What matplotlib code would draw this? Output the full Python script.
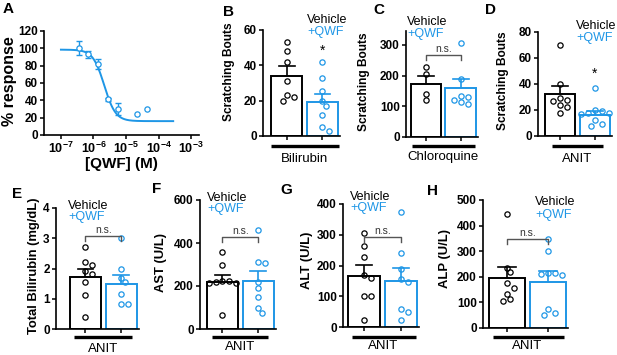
import numpy as np
import matplotlib
matplotlib.use('Agg')
import matplotlib.pyplot as plt
from matplotlib.ticker import LogLocator, FixedLocator, NullFormatter

plt.rcParams['font.family'] = ['Liberation Sans', 'DejaVu Sans']
plt.rcParams['mathtext.fontset'] = 'custom'
plt.rcParams['mathtext.rm'] = 'Liberation Sans:bold'
plt.rcParams['mathtext.bf'] = 'Liberation Sans:bold'

# ---------------- data ----------------
# Panel A: dose response
qwf_conc = [3.5e-7, 7e-7, 1.4e-6, 2.8e-6, 5.6e-6, 2.2e-5, 4.4e-5]
qwf_resp = [100, 93, 82, 41, 30, 24, 30]
qwf_err = [8, 4, 6, 2, 7, 0, 0]
fit_top, fit_bottom, fit_logic50, fit_hill = 98.5, 16.0, -5.67, 2.5
fit_start, fit_end = 1e-7, 2.8e-4

groups = ['Vehicle', '+QWF']

# Panel B: Bilirubin scratching
bili_veh = [53, 48, 42, 31, 23, 20, 22]
bili_qwf = [42, 33, 25.5, 20, 17, 12, 5, 3]
bili_mean = [34, 19]
bili_sem = [5.5, 5]

# Panel C: Chloroquine scratching
chlo_veh = [227, 205, 141, 121]
chlo_qwf = [305, 190, 134, 130, 122, 115, 106]
chlo_mean = [172, 160]
chlo_sem = [25, 28]

# Panel D: ANIT scratching
anit_veh = [70, 40, 28, 27, 29, 24, 22, 18]
anit_qwf = [37, 20, 19, 17.5, 17.5, 17, 12, 9, 8]
anit_mean = [32.5, 16]
anit_sem = [6, 3]

# Panel E: Total bilirubin
tbil_veh = [2.71, 2.21, 2.12, 1.93, 1.83, 1.57, 1.13, 0.41]
tbil_qwf = [3.0, 2.0, 1.7, 1.55, 1.15, 0.82, 0.82]
tbil_mean = [1.72, 1.5]
tbil_sem = [0.25, 0.27]

# Panel F: AST
ast_veh = [360, 300, 225, 218, 215, 212, 222, 65]
ast_qwf = [460, 312, 308, 220, 190, 148, 100, 76]
ast_mean = [220, 222]
ast_sem = [32, 48]

# Panel G: ALT
alt_veh = [305, 262, 228, 170, 160, 102, 102, 22]
alt_qwf = [375, 240, 190, 155, 145, 60, 48, 24]
alt_mean = [167, 150]
alt_sem = [35, 43]

# Panel H: ALP
alp_veh = [445, 236, 217, 174, 157, 133, 112, 104]
alp_qwf = [347, 300, 216, 214, 212, 208, 73, 52, 58]
alp_mean = [195, 180]
alp_sem = [42, 43]

# ---------------- style ----------------
BLUE = '#1E96E6'
BLACK = 'black'
W, H = 617, 355
fig = plt.figure(figsize=(W / 100, H / 100), dpi=100)


def add_ax(l, t, r, b):
    return fig.add_axes([l / W, 1 - b / H, (r - l) / W, (b - t) / H])


def ftext(x, y, s, **kw):
    fig.text(x / W, 1 - y / H, s, **kw)


def style_axes(ax, size=8.5):
    for s in ['top', 'right']:
        ax.spines[s].set_visible(False)
    for s in ['left', 'bottom']:
        ax.spines[s].set_linewidth(1.2)
    ax.tick_params(axis='both', which='major', length=3, width=1.1, pad=1.5,
                   labelsize=size, direction='out')
    for lab in ax.get_yticklabels() + ax.get_xticklabels():
        lab.set_fontweight('bold')


def swarm(vals, xpu, ypu, d=5.6):
    order = np.argsort(-np.asarray(vals, dtype=float), kind='stable')
    placed = []
    offs = np.zeros(len(vals))
    step = d * 0.62
    for i in order:
        y = vals[i] * ypu
        k = 0
        while True:
            cands = [0.0] if k == 0 else [k * step, -k * step]
            ok = None
            for c in cands:
                if all((c - px) ** 2 + (y - py) ** 2 >= d * d for px, py in placed):
                    ok = c
                    break
            if ok is not None:
                placed.append((ok, y))
                offs[i] = ok / xpu
                break
            k += 1
    return offs


def bar_panel(rect, xl, ylim, yticks, veh, qwf, means, sems, ylabel, ylab_xy,
              ylab_size, letter, letter_xy, legend_xy, legend_dy, sig, sig_y,
              group, group_base, uline, uline_off=9):
    l, t, r, b = rect
    ax = add_ax(l, t, r, b)
    xr = (xl, 1.49)
    ax.set_xlim(*xr)
    ax.set_ylim(*ylim)
    ax.set_yticks(yticks)
    ax.set_xticks([0, 1])
    ax.set_xticklabels(['', ''])
    style_axes(ax)
    xpu = (r - l) / (xr[1] - xr[0])
    ypu = (b - t) / (ylim[1] - ylim[0])
    cols = [BLACK, BLUE]
    for i, (pts, m, s, c) in enumerate(zip([veh, qwf], means, sems, cols)):
        ax.bar(i, m, width=0.88, facecolor='white', edgecolor=c, linewidth=1.4, zorder=2)
        ax.plot([i, i], [m, m + s], color=c, lw=1.2, zorder=3, solid_capstyle='butt')
        ax.plot([i - 0.22, i + 0.22], [m + s, m + s], color=c, lw=1.2, zorder=3)
        off = swarm(pts, xpu, ypu)
        ax.plot(i + off, pts, 'o', ms=3.8, mfc='none', mec=c, mew=0.9,
                zorder=4, clip_on=False)
    # significance
    if sig == 'n.s.':
        tick = 5 / ypu
        ax.plot([0, 0, 1, 1], [sig_y - tick, sig_y, sig_y, sig_y - tick],
                color='#555555', lw=1.0, clip_on=False, zorder=5)
        ax.text(0.5, sig_y + 1.0 / ypu, 'n.s.', ha='center', va='bottom',
                fontsize=7.5, color='#333333')
    else:
        ax.text(1, sig_y, '*', ha='center', va='center', fontsize=10, color='black')
    # underline
    uy = -uline_off / (b - t)
    ax.plot(uline, [uy, uy], color='black', lw=2.4,
            transform=ax.get_xaxis_transform(), clip_on=False, solid_capstyle='butt')
    cx = l + (0.5 - xr[0]) * xpu
    ftext(cx, group_base, group, ha='center', va='baseline', fontsize=9.5)
    # labels
    ftext(ylab_xy[0], ylab_xy[1], ylabel, rotation=90, ha='center', va='center',
          fontsize=ylab_size, fontweight='bold')
    ftext(letter_xy[0], letter_xy[1], letter, ha='center', va='center',
          fontsize=11, fontweight='bold')
    ftext(legend_xy[0], legend_xy[1], 'Vehicle', ha='left', va='center',
          fontsize=9, color=BLACK)
    ftext(legend_xy[0], legend_xy[1] + legend_dy, '+QWF', ha='left', va='center',
          fontsize=9, color=BLUE)
    return ax


# ---------------- Panel A ----------------
axA = add_ax(44, 31, 199, 135)
axA.set_xscale('log')
axA.set_xlim(10 ** -7.52, 10 ** -2.76)
axA.set_ylim(0, 120)
axA.set_yticks(np.arange(0, 121, 20))
axA.xaxis.set_major_locator(FixedLocator([1e-7, 1e-6, 1e-5, 1e-4, 1e-3]))
axA.xaxis.set_minor_locator(LogLocator(base=10, subs=np.arange(2, 10)))
axA.xaxis.set_minor_formatter(NullFormatter())
axA.set_xticklabels([r'$10^{%d}$' % e for e in [-7, -6, -5, -4, -3]])
style_axes(axA)
axA.tick_params(axis='x', which='major', labelsize=9, pad=1.0)
axA.tick_params(axis='x', which='minor', length=2, width=0.8)
xs = np.logspace(np.log10(fit_start), np.log10(fit_end), 300)
ys = fit_bottom + (fit_top - fit_bottom) / (1 + 10 ** ((np.log10(xs) - fit_logic50) * fit_hill))
axA.plot(xs, ys, color=BLUE, lw=1.4)
conc = np.array(qwf_conc)
resp = np.array(qwf_resp)
err = np.array(qwf_err)
has = err > 0
axA.errorbar(conc[has], resp[has], yerr=err[has], fmt='none', ecolor=BLUE,
             elinewidth=1.0, capsize=2, capthick=1.0)
axA.plot(conc, resp, 'o', ms=3.8, mfc='white', mec=BLUE, mew=0.9, zorder=4)
ftext(10, 81, '% response', rotation=90, ha='center', va='center',
      fontsize=11.5, fontweight='bold')
ftext(121, 168, '[QWF] (M)', ha='center', va='baseline', fontsize=11, fontweight='bold')
ftext(8, 9, 'A', ha='center', va='center', fontsize=11, fontweight='bold')

# ---------------- Panels B-D ----------------
bar_panel((263, 30, 340, 136), -0.66, (0, 60), [0, 20, 40, 60], bili_veh, bili_qwf,
          bili_mean, bili_sem, 'Scratching Bouts', (229, 72), 8.6, 'B', (228, 12),
          (307, 20), 11.5, '*', 48, 'Bilirubin', 162, (-0.45, 1.45), 10)
bar_panel((406, 31, 478, 137), -0.57, (0, 345), [0, 100, 200, 300], chlo_veh, chlo_qwf,
          chlo_mean, chlo_sem, 'Scratching Bouts', (364, 82), 8.6, 'C', (379, 10),
          (407, 22), 11.5, 'n.s.', 266, 'Chloroquine', 160, (-0.4, 1.4), 9)
bar_panel((538, 32, 612, 136), -0.63, (0, 80), [0, 20, 40, 60, 80], anit_veh, anit_qwf,
          anit_mean, anit_sem, 'Scratching Bouts', (503, 81), 8.6, 'D', (491, 10),
          (576, 26), 11.5, '*', 48, 'ANIT', 162, (-0.23, 1.23), 10)

# ---------------- Panels E-H ----------------
bar_panel((56, 208, 139, 329), -0.82, (0, 4), [0, 1, 2, 3, 4], tbil_veh, tbil_qwf,
          tbil_mean, tbil_sem, 'Total Bilirubin (mg/dL)', (34, 266), 9.4, 'E', (17, 194),
          (68, 206), 11, 'n.s.', 3.07, 'ANIT', 352, (-0.32, 1.3), 8)
bar_panel((200, 200, 276, 329), -0.625, (0, 600), [0, 200, 400, 600], ast_veh, ast_qwf,
          ast_mean, ast_sem, 'AST (U/L)', (161, 263), 9.4, 'F', (157, 189),
          (207, 198), 11, 'n.s.', 428, 'ANIT', 350, (-0.29, 1.26), 8)
bar_panel((343, 204, 419, 327), -0.58, (0, 400), [0, 100, 200, 300, 400], alt_veh, alt_qwf,
          alt_mean, alt_sem, 'ALT (U/L)', (307, 260), 9.4, 'G', (286, 190),
          (350, 197), 11, 'n.s.', 293, 'ANIT', 349, (-0.34, 1.42), 10)
bar_panel((483, 200, 568, 328), -0.58, (0, 500), [0, 100, 200, 300, 400, 500], alp_veh, alp_qwf,
          alp_mean, alp_sem, 'ALP (U/L)', (445, 258), 9.4, 'H', (433, 191),
          (535, 202), 13, 'n.s.', 348, 'ANIT', 349, (-0.34, 1.4), 9)

fig.savefig('out.png', dpi=100)
